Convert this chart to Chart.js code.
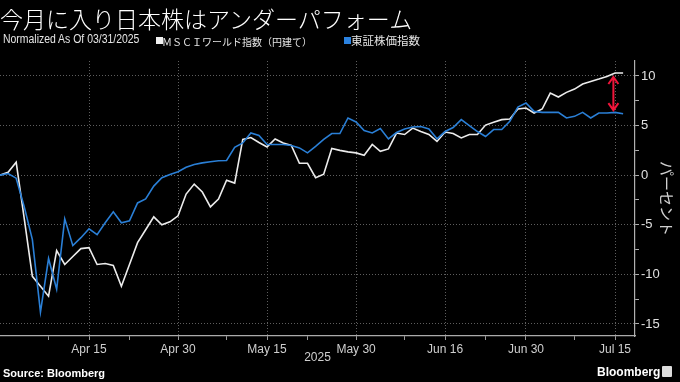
<!DOCTYPE html>
<html>
<head>
<meta charset="utf-8">
<script src="https://cdn.jsdelivr.net/npm/chart.js@4.4.1/dist/chart.umd.min.js"></script>
<style>
  body { margin: 0; background: #000; }
  #wrap { position: relative; width: 680px; height: 382px; overflow: hidden; color: #fff; font-family: "Liberation Sans", Arial, sans-serif; }
  #wrap canvas { position: absolute; left: 0; top: 0; }
  .title { position: absolute; left: 0px; top: 1px; font: 300 23px "Noto Sans CJK JP", sans-serif; white-space: nowrap; }
  .note { position: absolute; top: 33px; font-size: 11px; white-space: nowrap; color: #e6e6e6; }
  .narrow { font-size: 12px; top: 32px; transform: scaleX(0.87); transform-origin: left top; }
  .jp { font-family: "Noto Sans CJK JP", sans-serif; }
  .box { position: absolute; top: 37px; width: 7px; height: 7px; }
  .source { position: absolute; left: 3px; top: 367px; font-weight: bold; font-size: 11px; }
  .logo { position: absolute; left: 597px; top: 365px; font-weight: bold; font-size: 12px; }
  .icon { position: absolute; left: 662px; top: 366px; width: 10px; height: 11px; background: #ddd; border-radius: 1px; }
</style>
</head>
<body>
<div id="wrap">
  <canvas id="myChart" width="680" height="382"></canvas>
  <div class="title">今月に入り日本株はアンダーパフォーム</div>
  <div class="note narrow" style="left:3px">Normalized As Of 03/31/2025</div>
  <div class="box" style="left:156px;background:#f0f0f0"></div>
  <div class="note jp" style="left:162px;font-size:10px;top:34px">ＭＳＣＩワールド指数（円建て）</div>
  <div class="box" style="left:344px;background:#2b82e0"></div>
  <div class="note jp" style="left:351px;font-size:11.5px;top:32px">東証株価指数</div>
  <div class="source">Source: Bloomberg</div>
  <div class="logo">Bloomberg</div>
  <div class="icon"></div>
</div>
<script>
// weekdays from 03/31/2025
var dates = ['Mar 31', 'Apr 1', 'Apr 2', 'Apr 3', 'Apr 4', 'Apr 7', 'Apr 8', 'Apr 9', 'Apr 10', 'Apr 11',
    'Apr 14', 'Apr 15', 'Apr 16', 'Apr 17', 'Apr 18', 'Apr 21', 'Apr 22', 'Apr 23', 'Apr 24', 'Apr 25',
    'Apr 28', 'Apr 29', 'Apr 30', 'May 1', 'May 2', 'May 5', 'May 6', 'May 7', 'May 8', 'May 9',
    'May 12', 'May 13', 'May 14', 'May 15', 'May 16', 'May 19', 'May 20', 'May 21', 'May 22', 'May 23',
    'May 26', 'May 27', 'May 28', 'May 29', 'May 30', 'Jun 2', 'Jun 3', 'Jun 4', 'Jun 5', 'Jun 6',
    'Jun 9', 'Jun 10', 'Jun 11', 'Jun 12', 'Jun 13', 'Jun 16', 'Jun 17', 'Jun 18', 'Jun 19', 'Jun 20',
    'Jun 23', 'Jun 24', 'Jun 25', 'Jun 26', 'Jun 27', 'Jun 30', 'Jul 1', 'Jul 2', 'Jul 3', 'Jul 4',
    'Jul 7', 'Jul 8', 'Jul 9', 'Jul 10', 'Jul 11', 'Jul 14', 'Jul 15', 'Jul 16'];

// MSCI World (yen), % change since 03/31
var msciWorldYen = [0, 0.3, 1.3, -4.4, -10.2, -11.2, -12.2, -7.6, -9.0, -8.2,
    -7.4, -7.3, -9.0, -8.9, -9.1, -11.2, -9.0, -6.8, -5.5, -4.2,
    -5.0, -4.7, -4.1, -1.9, -0.9, -1.7, -3.2, -2.4, -0.5, -0.8,
    3.6, 3.8, 3.3, 2.85, 3.65, 3.25, 3.0, 1.2, 1.2, -0.25,
    0.1, 2.7, 2.5, 2.35, 2.25, 2.0, 3.1, 2.4, 2.65, 4.25,
    4.1, 4.75, 4.4, 4.1, 3.4, 4.35, 4.2, 3.75, 4.1, 4.1,
    5.05, 5.33, 5.6, 5.67, 6.67, 6.77, 6.27, 6.67, 8.28, 7.88,
    8.35, 8.68, 9.19, 9.45, 9.69, 9.95, 10.3, 10.3];

// TOPIX, % change since 03/31
var topix = [0, 0.17, -0.3, -3.2, -6.5, -13.8, -8.4, -11.5, -4.4, -7.1,
    -6.3, -5.4, -6.0, -4.8, -3.7, -4.8, -4.6, -2.8, -2.4, -1.1,
    -0.26, 0.07, 0.34, 0.8, 1.07, 1.24, 1.35, 1.45, 1.48, 2.8,
    3.25, 4.26, 4.0, 3.1, 3.1, 3.1, 3.0, 2.75, 2.25, 2.9,
    3.6, 4.2, 4.2, 5.77, 5.37, 4.5, 4.26, 4.7, 3.66, 4.3,
    4.66, 4.86, 4.9, 4.66, 3.66, 4.4, 4.8, 5.6, 5.0, 4.4,
    3.9, 4.6, 4.6, 5.43, 6.87, 7.28, 6.43, 6.33, 6.33, 6.33,
    5.77, 5.93, 6.33, 5.77, 6.27, 6.27, 6.33, 6.2];

var xTickDates = ['Apr 15', 'Apr 30', 'May 15', 'May 30', 'Jun 16', 'Jun 30', 'Jul 15'];
var xMinorDates = ['Apr 8', 'Apr 22', 'May 8', 'May 22', 'Jun 9', 'Jun 23', 'Jul 8'];
var yTicks = [-15, -10, -5, 0, 5, 10];
var yMinorTicks = [-12.5, -7.5, -2.5, 2.5, 7.5];

// red arrow marking the gap
var arrowDate = 'Jul 14';
var arrowTop = 10.0;
var arrowBottom = 6.45;

var majorIdx = xTickDates.map(function(d){ return dates.indexOf(d); });
var minorIdx = xMinorDates.map(function(d){ return dates.indexOf(d); });

var gapArrow = {
    id: 'gapArrow',
    afterDatasetsDraw: function(chart) {
        var ctx = chart.ctx, x = chart.scales.x, y = chart.scales.y;
        var px = x.getPixelForValue(dates.indexOf(arrowDate) + 0.8);
        var y1 = y.getPixelForValue(arrowTop), y2 = y.getPixelForValue(arrowBottom);
        ctx.save();
        ctx.strokeStyle = '#f0153a';
        ctx.lineWidth = 2;
        ctx.beginPath();
        ctx.moveTo(px, y1 + 1); ctx.lineTo(px, y2 - 1);
        ctx.moveTo(px - 5, y1 + 8); ctx.lineTo(px, y1 + 1); ctx.lineTo(px + 5, y1 + 8);
        ctx.moveTo(px - 5, y2 - 8); ctx.lineTo(px, y2 - 1); ctx.lineTo(px + 5, y2 - 8);
        ctx.stroke();
        ctx.restore();
    }
};

var ctx = document.getElementById('myChart');
var chart = new Chart(ctx, {
    type: 'line',
    data: {
        datasets: [{
            label: '東証株価指数',
            data: topix.map(function(v, i){ return {x: i, y: v}; }),
            borderColor: '#2a7fd6',
            borderWidth: 1.6,
            pointRadius: 0,
            tension: 0
        }, {
            label: 'ＭＳＣＩワールド指数（円建て）',
            data: msciWorldYen.map(function(v, i){ return {x: i, y: v}; }),
            borderColor: '#ececec',
            borderWidth: 1.6,
            pointRadius: 0,
            tension: 0
        }]
    },
    options: {
        responsive: false,
        animation: false,
        layout: { padding: { top: 61, left: 0, right: 0, bottom: 6 } },
        plugins: { legend: { display: false }, tooltip: { enabled: false } },
        scales: {
            x: {
                type: 'linear',
                min: 0,
                max: 78.47,
                afterBuildTicks: function(s) {
                    s.ticks = majorIdx.concat(minorIdx).sort(function(a, b){ return a - b; })
                        .map(function(v){ return {value: v}; });
                },
                afterFit: function(s) { s.height = 40; },
                ticks: {
                    autoSkip: false,
                    maxRotation: 0,
                    padding: 2,
                    color: '#cfcfcf',
                    font: { size: 12, family: 'Liberation Sans' },
                    callback: function(v) { return majorIdx.indexOf(v) >= 0 ? dates[v] : ''; }
                },
                grid: {
                    color: function(c) { return c.tick && majorIdx.indexOf(c.tick.value) >= 0 ? '#5e5e5e' : 'rgba(0,0,0,0)'; },
                    tickColor: '#9a9a9a',
                    tickLength: 4
                },
                border: { color: '#aaaaaa', width: 1.2, dash: [1, 2] },
                title: {
                    display: true,
                    text: '2025',
                    color: '#cfcfcf',
                    font: { size: 12, family: 'Liberation Sans' },
                    padding: { top: 0, bottom: 11 }
                }
            },
            y: {
                position: 'right',
                min: -16.21,
                max: 11.51,
                afterBuildTicks: function(s) {
                    s.ticks = yTicks.concat(yMinorTicks).sort(function(a, b){ return a - b; })
                        .map(function(v){ return {value: v}; });
                },
                afterFit: function(s) { s.width = 45; },
                ticks: {
                    padding: 2,
                    color: '#e0e0e0',
                    font: { size: 13, family: 'Liberation Sans' },
                    callback: function(v) { return yTicks.indexOf(v) >= 0 ? String(v) : ''; }
                },
                grid: {
                    color: function(c) { return c.tick && yTicks.indexOf(c.tick.value) >= 0 ? '#5e5e5e' : 'rgba(0,0,0,0)'; },
                    tickColor: '#b0b0b0',
                    tickLength: 4
                },
                border: { color: '#b0b0b0', width: 1.2, dash: [1, 2] },
                title: {
                    display: true,
                    text: 'パーセント',
                    color: '#d0d0d0',
                    font: { size: 15, family: 'Noto Sans CJK JP' },
                    padding: { top: 4, bottom: 0 }
                }
            }
        }
    },
    plugins: [gapArrow]
});
</script>
</body>
</html>
